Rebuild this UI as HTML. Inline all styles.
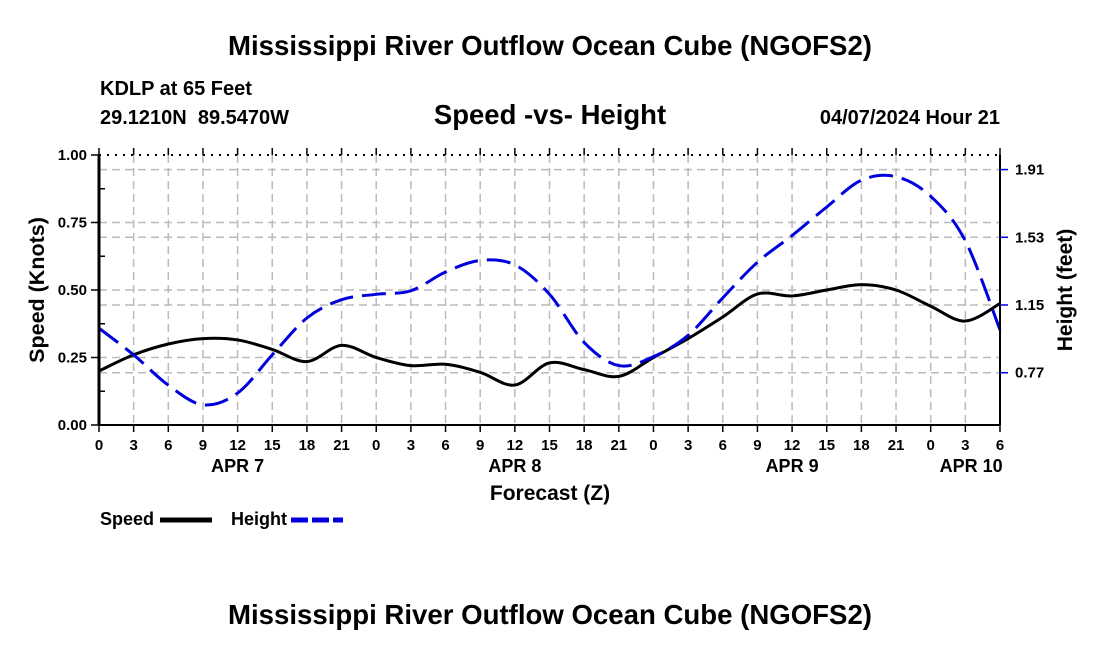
<!DOCTYPE html>
<html><head><meta charset="utf-8"><style>
body{margin:0;background:#fff;width:1100px;height:650px;overflow:hidden;font-family:"Liberation Sans",Arial,sans-serif}
svg text{font-family:"Liberation Sans",Arial,sans-serif;font-weight:bold}
</style></head><body>
<svg id="c" width="1100" height="650" xmlns="http://www.w3.org/2000/svg">
<text x="550" y="55" text-anchor="middle" font-size="27.6">Mississippi River Outflow Ocean Cube (NGOFS2)</text>
<text x="100" y="95" font-size="20">KDLP at 65 Feet</text>
<text x="100" y="124" font-size="20" xml:space="preserve">29.1210N  89.5470W</text>
<text x="550" y="124" text-anchor="middle" font-size="27.5">Speed -vs- Height</text>
<text x="1000" y="124" text-anchor="end" font-size="20">04/07/2024 Hour 21</text>
<text x="550" y="500" text-anchor="middle" font-size="21">Forecast (Z)</text>
<text transform="translate(44,290) rotate(-90)" text-anchor="middle" font-size="21.5">Speed (Knots)</text>
<text transform="translate(1072,290) rotate(-90)" text-anchor="middle" font-size="21">Height (feet)</text>
<g>
<text x="100" y="525" font-size="18">Speed</text>
<line x1="160" y1="520" x2="212" y2="520" stroke="#000" stroke-width="5"/>
<text x="231" y="525" font-size="18">Height</text>
<line x1="291" y1="520" x2="343" y2="520" stroke="#0000dd" stroke-width="5" stroke-dasharray="17,4"/>
</g>
<text x="550" y="624" text-anchor="middle" font-size="27.6">Mississippi River Outflow Ocean Cube (NGOFS2)</text>
</svg>
<script>
const hours=[0,3,6,9,12,15,18,21,24,27,30,33,36,39,42,45,48,51,54,57,60,63,66,69,72,75,78];
const speed=[0.20,0.26,0.30,0.32,0.315,0.28,0.235,0.295,0.25,0.22,0.225,0.195,0.148,0.23,0.205,0.18,0.25,0.32,0.40,0.485,0.478,0.50,0.52,0.50,0.44,0.385,0.45];
const height=[1.02,0.87,0.70,0.59,0.656,0.87,1.077,1.18,1.21,1.23,1.335,1.40,1.375,1.21,0.94,0.81,0.86,0.98,1.19,1.39,1.54,1.70,1.85,1.87,1.76,1.51,1.01];
const xTickLabels=["0","3","6","9","12","15","18","21","0","3","6","9","12","15","18","21","0","3","6","9","12","15","18","21","0","3","6"];
const dayLabels=["APR 7","APR 8","APR 9","APR 10"];
const dayHours=[12,36,60,75.5];
const leftTicks=[0,0.25,0.5,0.75,1.0];
const rightTicks=[0.77,1.15,1.53,1.91];
const L=99,R=1000,T=155,B=425;
const NS="http://www.w3.org/2000/svg",svg=document.getElementById('c');
const xs=h=>L+(h-0)/78*(R-L);
const ys=v=>B-v*(B-T);
const yh=v=>305-(v-1.15)*178.2;
function mk(t,a,p){const e=document.createElementNS(NS,t);for(const k in a)e.setAttribute(k,a[k]);(p||svg).appendChild(e);return e;}
const g=mk('g',{});


hours.forEach(h=>{const l=mk('line',{x1:xs(h),x2:xs(h),y1:T,y2:B,stroke:'#bbb','stroke-width':1.5,'stroke-dasharray':'8,5'},g);

});
leftTicks.slice(1,4).forEach(v=>{const l=mk('line',{x1:L,x2:R,y1:ys(v),y2:ys(v),stroke:'#bbb','stroke-width':1.5,'stroke-dasharray':'8,5'},g);

});
rightTicks.forEach(v=>{const l=mk('line',{x1:L,x2:R,y1:yh(v),y2:yh(v),stroke:'#bbb','stroke-width':1.5,'stroke-dasharray':'8,5'},g);

});
function path(vals,f){const p=hours.map((h,i)=>[xs(h),f(vals[i])]);let d='M'+p[0][0]+','+p[0][1];
for(let i=0;i<p.length-1;i++){const p0=p[Math.max(0,i-1)],p1=p[i],p2=p[i+1],p3=p[Math.min(p.length-1,i+2)];
d+=' C'+(p1[0]+(p2[0]-p0[0])/6)+','+(p1[1]+(p2[1]-p0[1])/6)+' '+(p2[0]-(p3[0]-p1[0])/6)+','+(p2[1]-(p3[1]-p1[1])/6)+' '+p2[0]+','+p2[1];}return d;}
const sp=mk('path',{d:path(speed,ys),fill:'none',stroke:'#000','stroke-width':3});


const hp=mk('path',{d:path(height,yh),fill:'none',stroke:'#0000dd','stroke-width':3,'stroke-dasharray':'24,9'});


const ax=mk('g',{});


mk('line',{x1:L,x2:R,y1:T,y2:T,stroke:'#000','stroke-width':2,'stroke-dasharray':'2,6'},ax);
mk('line',{x1:L,x2:R,y1:B,y2:B,stroke:'#000','stroke-width':2},ax);
mk('line',{x1:L,x2:L,y1:T,y2:B,stroke:'#000','stroke-width':3},ax);
mk('line',{x1:R,x2:R,y1:T,y2:B,stroke:'#000','stroke-width':2},ax);
hours.forEach((h,i)=>{mk('line',{x1:xs(h),x2:xs(h),y1:T-7,y2:T,stroke:'#000','stroke-width':1.5},ax);
mk('line',{x1:xs(h),x2:xs(h),y1:B,y2:B+7,stroke:'#000','stroke-width':1.5},ax);
const t=mk('text',{x:xs(h),y:B+25,'text-anchor':'middle','font-size':15});t.textContent=xTickLabels[i];

});
dayLabels.forEach((s,i)=>{const t=mk('text',{x:xs(dayHours[i]),y:B+47,'text-anchor':'middle','font-size':18});t.textContent=s;

});
for(let v=0;v<=1.0001;v+=0.125){const major=Math.abs(v*4-Math.round(v*4))<1e-6;
mk('line',{x1:L-(major?8:0),x2:L+(major?0:6),y1:ys(v),y2:ys(v),stroke:'#000','stroke-width':1.5},ax);}
leftTicks.forEach(v=>{const t=mk('text',{x:L-12,y:ys(v)+5,'text-anchor':'end','font-size':15});t.textContent=v.toFixed(2);

});
rightTicks.forEach(v=>{mk('line',{x1:R,x2:R+8,y1:yh(v),y2:yh(v),stroke:'#0000dd','stroke-width':1.5},ax);
const t=mk('text',{x:R+15,y:yh(v)+5,'font-size':15});t.textContent=v.toFixed(2);

});
</script>
</body></html>
